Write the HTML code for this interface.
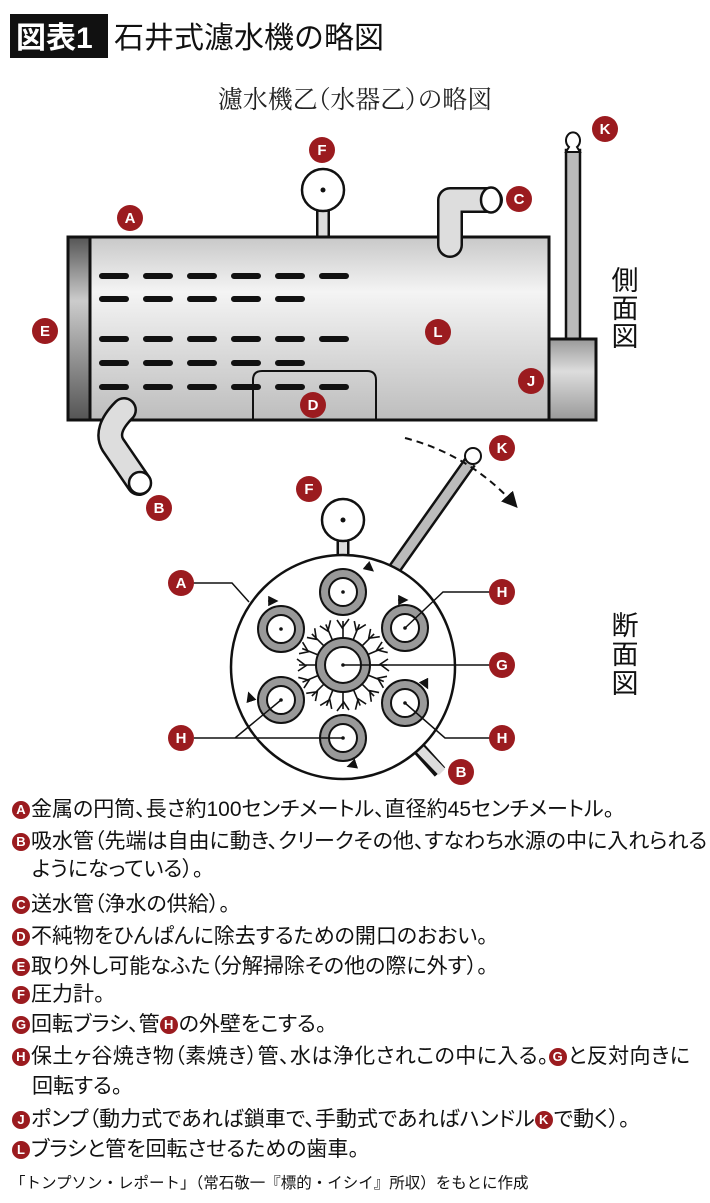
<!DOCTYPE html>
<html><head><meta charset="utf-8"><style>
html,body{margin:0;padding:0;background:#fff;}
body{width:710px;height:1203px;position:relative;overflow:hidden;font-family:"Liberation Sans","Noto Sans CJK JP",sans-serif;}
svg{position:absolute;left:0;top:0;}
.ln{position:absolute;left:12px;font-size:21px;line-height:24px;color:#111;white-space:nowrap;font-feature-settings:"palt";}
.b{display:inline-block;width:18px;height:18px;border-radius:50%;background:#9b1b1f;color:#fff;font-size:13px;font-weight:bold;line-height:18px;text-align:center;vertical-align:2px;margin-right:1px;font-family:"Liberation Sans",sans-serif;}
</style></head><body>
<svg width="710" height="1203" viewBox="0 0 710 1203" font-family="Liberation Sans, Noto Sans CJK JP, sans-serif">
<defs>
<linearGradient id="cyl" x1="0" y1="0" x2="0" y2="1"><stop offset="0" stop-color="#c8c8c8"/><stop offset="0.3" stop-color="#f4f4f4"/><stop offset="1" stop-color="#bdbdbd"/></linearGradient>
<linearGradient id="cap" x1="0" y1="0" x2="0" y2="1"><stop offset="0" stop-color="#555"/><stop offset="0.35" stop-color="#ccc"/><stop offset="1" stop-color="#555"/></linearGradient>
<linearGradient id="pump" x1="0" y1="0" x2="0" y2="1"><stop offset="0" stop-color="#999"/><stop offset="0.4" stop-color="#ddd"/><stop offset="1" stop-color="#999"/></linearGradient>
<marker id="ar" markerWidth="8" markerHeight="8" refX="6" refY="4" orient="auto"><path d="M0,0 L8,4 L0,8 Z" fill="#111"/></marker>
</defs>
<rect x="10" y="14" width="98" height="44" fill="#111"/>
<text x="16" y="48" font-size="30" fill="#fff" font-weight="bold">図表1</text>
<text x="114" y="48" font-size="30" fill="#111">石井式濾水機の略図</text>
<text x="355" y="108" font-size="25" text-anchor="middle" font-family="Liberation Serif, Noto Serif CJK SC, serif" fill="#222" style="font-feature-settings:'palt'">濾水機乙（水器乙）の略図</text>
<!-- side view -->
<path d="M323,190 V237" stroke="#111" stroke-width="14"/><path d="M323,190 V238" stroke="#ddd" stroke-width="9"/>
<circle cx="323" cy="190" r="21" fill="#fff" stroke="#111" stroke-width="2.5"/><circle cx="323" cy="190" r="2.5" fill="#111"/>
<rect x="566" y="150" width="14" height="192" fill="#bbb" stroke="#111" stroke-width="2.5"/>
<path d="M566,152 h14 l-3,-5 a7,8 0 1 0 -8,0 z" fill="#fff" stroke="#111" stroke-width="2"/>
<rect x="68" y="237" width="481" height="183" fill="url(#cyl)" stroke="#111" stroke-width="3"/>
<rect x="68" y="237" width="22" height="183" fill="url(#cap)" stroke="#111" stroke-width="3"/>
<rect x="549" y="339" width="47" height="81" fill="url(#pump)" stroke="#111" stroke-width="3"/>
<path d="M253,420 V380 q0,-9 9,-9 H367 q9,0 9,9 V420" fill="none" stroke="#111" stroke-width="2"/>
<path d="M450,245 V200 H490" fill="none" stroke="#111" stroke-width="26" stroke-linejoin="round" stroke-linecap="round"/>
<path d="M450,245 V200 H490" fill="none" stroke="#ddd" stroke-width="21" stroke-linejoin="round" stroke-linecap="round"/>
<ellipse cx="491" cy="200" rx="10" ry="12.5" fill="#fff" stroke="#111" stroke-width="2.5"/>
<path d="M124,410 Q104,430 113,445 L139,483" fill="none" stroke="#111" stroke-width="26" stroke-linecap="round"/>
<path d="M124,410 Q104,430 113,445 L139,483" fill="none" stroke="#ddd" stroke-width="21" stroke-linecap="round"/>
<ellipse cx="140" cy="483" rx="11" ry="11" fill="#fff" stroke="#111" stroke-width="2.5"/>
<g stroke="#111" stroke-width="6" stroke-linecap="round">
<path d="M102,276h24M146,276h24M190,276h24M234,276h24M278,276h24M322,276h24"/>
<path d="M102,299h24M146,299h24M190,299h24M234,299h24M278,299h24"/>
<path d="M102,339h24M146,339h24M190,339h24M234,339h24M278,339h24M322,339h24"/>
<path d="M102,363h24M146,363h24M190,363h24M234,363h24M278,363h24"/>
<path d="M102,387h24M146,387h24M190,387h24M234,387h24M278,387h24M322,387h24"/>
</g>
<text x="625" y="290" font-size="27" text-anchor="middle" fill="#111">側</text>
<text x="625" y="318" font-size="27" text-anchor="middle" fill="#111">面</text>
<text x="625" y="346" font-size="27" text-anchor="middle" fill="#111">図</text>
<text x="625" y="635" font-size="27" text-anchor="middle" fill="#111">断</text>
<text x="625" y="664" font-size="27" text-anchor="middle" fill="#111">面</text>
<text x="625" y="693" font-size="27" text-anchor="middle" fill="#111">図</text>
<!-- cross-section -->
<path d="M343,520 V556" stroke="#111" stroke-width="13"/><path d="M343,520 V557" stroke="#ddd" stroke-width="8"/>
<circle cx="343" cy="520" r="21" fill="#fff" stroke="#111" stroke-width="2.5"/><circle cx="343" cy="520" r="2.5" fill="#111"/>
<path d="M395,568 L470,462" stroke="#111" stroke-width="14" stroke-linecap="butt"/>
<path d="M395,568 L470,462" stroke="#bbb" stroke-width="9"/>
<circle cx="473" cy="456" r="8" fill="#fff" stroke="#111" stroke-width="2"/>
<path d="M415,744 L440,772" stroke="#111" stroke-width="14"/><path d="M415,744 L442,772" stroke="#ddd" stroke-width="9"/>
<circle cx="343" cy="667" r="112" fill="#fff" stroke="#111" stroke-width="2.5"/>
<path d="M405,438 Q470,455 515,505" fill="none" stroke="#111" stroke-width="2" stroke-dasharray="7,5" marker-end="url(#ar)"/>
<g stroke="#111" stroke-width="1.6" fill="none" transform="translate(343,665)">
<path id="br" d="M0,-26 L0,-44 M0,-36 l-6,-9 M0,-38 l6,-8"/>
<use href="#br" transform="rotate(22)"/><use href="#br" transform="rotate(45)"/><use href="#br" transform="rotate(67)"/>
<use href="#br" transform="rotate(90)"/><use href="#br" transform="rotate(112)"/><use href="#br" transform="rotate(135)"/>
<use href="#br" transform="rotate(157)"/><use href="#br" transform="rotate(180)"/><use href="#br" transform="rotate(202)"/>
<use href="#br" transform="rotate(225)"/><use href="#br" transform="rotate(247)"/><use href="#br" transform="rotate(270)"/>
<use href="#br" transform="rotate(292)"/><use href="#br" transform="rotate(315)"/><use href="#br" transform="rotate(337)"/>
</g>
<g fill="#fff" stroke="#111" stroke-width="2">
<circle cx="343" cy="665" r="27" fill="#999"/><circle cx="343" cy="665" r="18"/>
<circle cx="343" cy="592" r="23" fill="#999"/><circle cx="343" cy="592" r="14"/>
<circle cx="281" cy="629" r="23" fill="#999"/><circle cx="281" cy="629" r="14"/>
<circle cx="405" cy="628" r="23" fill="#999"/><circle cx="405" cy="628" r="14"/>
<circle cx="281" cy="700" r="23" fill="#999"/><circle cx="281" cy="700" r="14"/>
<circle cx="405" cy="703" r="23" fill="#999"/><circle cx="405" cy="703" r="14"/>
<circle cx="343" cy="738" r="23" fill="#999"/><circle cx="343" cy="738" r="14"/>
</g>
<g fill="#111"><circle cx="343" cy="592" r="1.8"/><circle cx="281" cy="629" r="1.8"/><circle cx="405" cy="628" r="1.8"/><circle cx="281" cy="700" r="1.8"/><circle cx="405" cy="703" r="1.8"/><circle cx="343" cy="738" r="1.8"/><circle cx="343" cy="665" r="1.8"/></g>
<g stroke="#111" stroke-width="1.3" fill="none" marker-end="url(#ar)">
<path d="M366,565 l6,5"/><path d="M268,601 l8,0"/><path d="M398,600 l8,0"/><path d="M251,700 l-2,-6"/><path d="M424,681 l3,6"/><path d="M355,764 l-6,2"/>
</g>
<g stroke="#111" stroke-width="1.5" fill="none">
<path d="M193,583 H232 L249,602"/>
<path d="M490,592 H443 L405,628"/>
<path d="M343,665 H490"/>
<path d="M490,738 H445 L405,703"/>
<path d="M194,738 H235 L281,700 M235,738 H343"/>
</g>
<!-- labels -->
<g font-size="15" font-weight="bold" fill="#fff" text-anchor="middle">
<g fill="#9b1b1f">
<circle cx="130" cy="218" r="13"/><circle cx="322" cy="150" r="13"/><circle cx="519" cy="199" r="13"/><circle cx="605" cy="129" r="13"/>
<circle cx="45" cy="331" r="13"/><circle cx="438" cy="332" r="13"/><circle cx="531" cy="381" r="13"/><circle cx="313" cy="405" r="13"/>
<circle cx="159" cy="508" r="13"/><circle cx="502" cy="448" r="13"/><circle cx="309" cy="489" r="13"/><circle cx="181" cy="583" r="13"/>
<circle cx="502" cy="592" r="13"/><circle cx="502" cy="665" r="13"/><circle cx="502" cy="738" r="13"/><circle cx="181" cy="738" r="13"/><circle cx="461" cy="772" r="13"/>
</g>
<text x="130" y="223">A</text><text x="322" y="155">F</text><text x="519" y="204">C</text><text x="605" y="134">K</text>
<text x="45" y="336">E</text><text x="438" y="337">L</text><text x="531" y="386">J</text><text x="313" y="410">D</text>
<text x="159" y="513">B</text><text x="502" y="453">K</text><text x="309" y="494">F</text><text x="181" y="588">A</text>
<text x="502" y="597">H</text><text x="502" y="670">G</text><text x="502" y="743">H</text><text x="181" y="743">H</text><text x="461" y="777">B</text>
</g>
</svg>
<div class="ln" style="top:798px"><span class="b">A</span>金属の円筒、長さ約100センチメートル、直径約45センチメートル。</div>
<div class="ln" style="top:830px"><span class="b">B</span>吸水管（先端は自由に動き、クリークその他、すなわち水源の中に入れられる</div>
<div class="ln" style="top:858px;left:32px">ようになっている）。</div>
<div class="ln" style="top:893px"><span class="b">C</span>送水管（浄水の供給）。</div>
<div class="ln" style="top:925px"><span class="b">D</span>不純物をひんぱんに除去するための開口のおおい。</div>
<div class="ln" style="top:955px"><span class="b">E</span>取り外し可能なふた（分解掃除その他の際に外す）。</div>
<div class="ln" style="top:983px"><span class="b">F</span>圧力計。</div>
<div class="ln" style="top:1013px"><span class="b">G</span>回転ブラシ、管<span class="b">H</span>の外壁をこする。</div>
<div class="ln" style="top:1045px;letter-spacing:0.4px"><span class="b">H</span>保土ヶ谷焼き物（素焼き）管、水は浄化されこの中に入る。<span class="b">G</span>と反対向きに</div>
<div class="ln" style="top:1075px;left:32px">回転する。</div>
<div class="ln" style="top:1108px"><span class="b">J</span>ポンプ（動力式であれば鎖車で、手動式であればハンドル<span class="b">K</span>で動く）。</div>
<div class="ln" style="top:1138px"><span class="b">L</span>ブラシと管を回転させるための歯車。</div>
<div class="ln" style="top:1172px;font-size:15.5px;left:10px;font-feature-settings:normal">「トンプソン・レポート」（常石敬一『標的・イシイ』所収）をもとに作成</div>
</body></html>
